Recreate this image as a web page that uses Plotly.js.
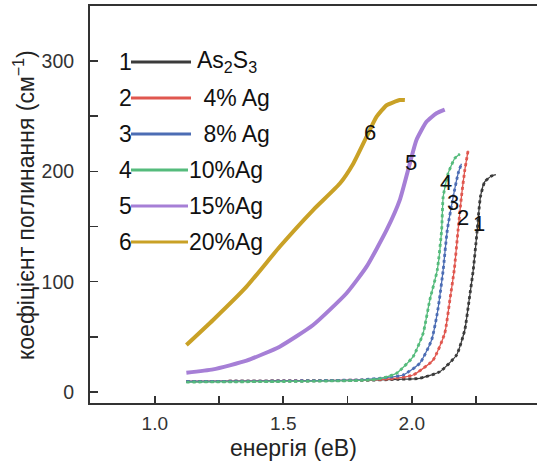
<!DOCTYPE html>
<html>
<head>
<meta charset="utf-8">
<script src="https://cdn.plot.ly/plotly-3.0.1.min.js"></script>
<style>html,body{margin:0;padding:0;background:#fff;}#chart{width:537px;height:461px;}</style>
</head>
<body>
<div id="chart"></div>
<script>
// ---- data ----
const seriesNames = ["As<sub>2</sub>S<sub>3</sub>", " 4% Ag", " 8% Ag", "10%Ag", "15%Ag", "20%Ag"];
const seriesNumbers = ["1", "2", "3", "4", "5", "6"];

const energy1 = [1.123, 1.5, 1.8, 1.95, 2.031, 2.109, 2.174, 2.206, 2.223, 2.239, 2.252, 2.267, 2.284, 2.310, 2.327];
const alpha1  = [9.5, 10, 10.5, 11.5, 12.4, 18.4, 33.5, 56.2, 83.4, 110.6, 140.8, 177, 190.7, 195.8, 197];

const energy2 = [1.123, 1.5, 1.8, 1.92, 2.005, 2.083, 2.128, 2.148, 2.165, 2.180, 2.193, 2.206, 2.219];
const alpha2  = [9.5, 10, 10.8, 12, 15.4, 29, 53.2, 83.4, 110.6, 146.9, 177, 201, 218.8];

const energy3 = [1.123, 1.5, 1.8, 1.9, 1.966, 2.031, 2.077, 2.099, 2.107, 2.122, 2.138, 2.161, 2.180, 2.193];
const alpha3  = [9.5, 10, 11, 13, 15.4, 26, 47.1, 71.3, 83.4, 110.6, 146.9, 177, 198, 207];

const energy4 = [1.123, 1.5, 1.8, 1.875, 1.940, 2.005, 2.044, 2.070, 2.099, 2.116, 2.122, 2.141, 2.167, 2.187];
const alpha4  = [9, 9.5, 10.5, 12, 16.9, 32, 53.2, 83.4, 110.6, 146.9, 177, 198, 211.8, 215.8];

const energy5 = [1.123, 1.227, 1.357, 1.486, 1.616, 1.746, 1.824, 1.902, 1.953, 1.992, 2.018, 2.057, 2.096, 2.128];
const alpha5  = [17.5, 20.5, 28.4, 41.1, 60.7, 89.5, 113.6, 146.9, 174, 207, 228.5, 245, 252.7, 256];

const energy6 = [1.123, 1.227, 1.357, 1.486, 1.616, 1.720, 1.772, 1.824, 1.863, 1.902, 1.953, 1.973];
const alpha6  = [42.6, 65.3, 95.5, 131.7, 165, 189, 207, 231.5, 249.6, 260, 264.7, 264.7];

const curveLabelText = ["6", "5", "4", "3", "2", "1"];
const curveLabelX    = [1.837, 1.996, 2.134, 2.160, 2.198, 2.261];
const curveLabelY    = [235.7, 208.5, 190, 172, 157.8, 153];

const xTickVals = [1.0, 1.25, 1.5, 1.75, 2.0, 2.25];
const xTickText = ["1.0", "", "1.5", "", "2.0", ""];
const yTickVals = [0, 50, 100, 150, 200, 250, 300];
const yTickText = ["0", "", "100", "", "200", "", "300"];

const xTitle = "енергія (еВ)";
const yTitle = "коефіцієнт поглинання (см<sup>−1</sup>)";

// ---- styling ----
const colors = ["#3b3b3b", "#e0574f", "#4c6db4", "#55bb7c", "#a67fd6", "#c9a126"];
const font = "Liberation Sans, Arial, sans-serif";

const energies = [energy1, energy2, energy3, energy4, energy5, energy6];
const alphas = [alpha1, alpha2, alpha3, alpha4, alpha5, alpha6];

const traces = [];
// broad curves 6 and 5: thick solid
[5, 4].forEach(i => traces.push({
  x: energies[i], y: alphas[i], type: "scatter", mode: "lines",
  line: {color: colors[i], width: 4, shape: "spline", smoothing: 0.5},
  showlegend: false, hoverinfo: "skip"
}));
// steep curves 1-4: thin solid core plus dotted overlay (dense point look)
[0, 1, 2, 3].forEach(i => {
  traces.push({
    x: energies[i], y: alphas[i], type: "scatter", mode: "lines",
    line: {color: colors[i], width: 1.3, shape: "spline", smoothing: 0.5},
    showlegend: false, hoverinfo: "skip"
  });
  traces.push({
    x: energies[i], y: alphas[i], type: "scatter", mode: "lines",
    line: {color: colors[i], width: 2.8, shape: "spline", smoothing: 0.5, dash: "dot"},
    showlegend: false, hoverinfo: "skip"
  });
});

// legend built from shapes/annotations (paper coordinates)
const L = 90, R = 537, T = 6, B = 403;
const px = v => (v - L) / (R - L);
const py = v => (B - v) / (B - T);
const rowY = [62, 98, 134, 170, 206, 242];
const lineEnd = [191, 191, 191, 188, 188, 188];
const labelStart = [195, 195, 195, 187, 187, 187];

const shapes = [];
const annotations = [];
for (let i = 0; i < 6; i++) {
  shapes.push({type: "line", xref: "paper", yref: "paper",
    x0: px(131), x1: px(lineEnd[i]), y0: py(rowY[i]), y1: py(rowY[i]),
    line: {color: colors[i], width: 3}});
  annotations.push({xref: "paper", yref: "paper", x: px(134), y: py(rowY[i]),
    xanchor: "right", yanchor: "middle", showarrow: false, text: seriesNumbers[i],
    font: {family: font, size: 23, color: "#111"}});
  annotations.push({xref: "paper", yref: "paper", x: px(labelStart[i]), y: py(rowY[i]),
    xanchor: "left", yanchor: "middle", showarrow: false, text: seriesNames[i],
    font: {family: font, size: 23, color: "#111"}});
}
for (let k = 0; k < curveLabelText.length; k++) {
  annotations.push({x: curveLabelX[k], y: curveLabelY[k], xref: "x", yref: "y",
    showarrow: false, text: curveLabelText[k],
    font: {family: font, size: 22, color: "#111"}});
}
// axis titles
annotations.push({xref: "paper", yref: "paper", x: px(293), y: py(448),
  xanchor: "center", yanchor: "middle", showarrow: false, text: xTitle,
  font: {family: font, size: 23, color: "#222"}});
annotations.push({xref: "paper", yref: "paper", x: px(24), y: py(205),
  xanchor: "center", yanchor: "middle", showarrow: false, text: yTitle, textangle: -90,
  font: {family: font, size: 23, color: "#222"}});

const layout = {
  width: 537, height: 461,
  margin: {l: 90, r: 0, t: 6, b: 58, pad: 0},
  paper_bgcolor: "#fff", plot_bgcolor: "#fff",
  font: {family: font, color: "#333"},
  xaxis: {
    range: [0.748, 2.487], tickmode: "array", tickvals: xTickVals, ticktext: xTickText,
    ticks: "inside", ticklen: 7, tickwidth: 1.6, tickcolor: "#333",
    showline: true, linewidth: 2, linecolor: "#333", mirror: true,
    showgrid: false, zeroline: false,
    tickfont: {family: font, size: 19, color: "#333"}, ticklabelstandoff: 2
  },
  yaxis: {
    range: [-10, 350], tickmode: "array", tickvals: yTickVals, ticktext: yTickText,
    ticks: "inside", ticklen: 8, tickwidth: 1.6, tickcolor: "#333",
    showline: true, linewidth: 2, linecolor: "#333", mirror: false,
    showgrid: false, zeroline: false,
    tickfont: {family: font, size: 19.5, color: "#333"}, ticklabelstandoff: 10
  },
  shapes: shapes,
  annotations: annotations,
  showlegend: false
};

Plotly.newPlot("chart", traces, layout, {staticPlot: true, displayModeBar: false});
</script>
</body>
</html>
